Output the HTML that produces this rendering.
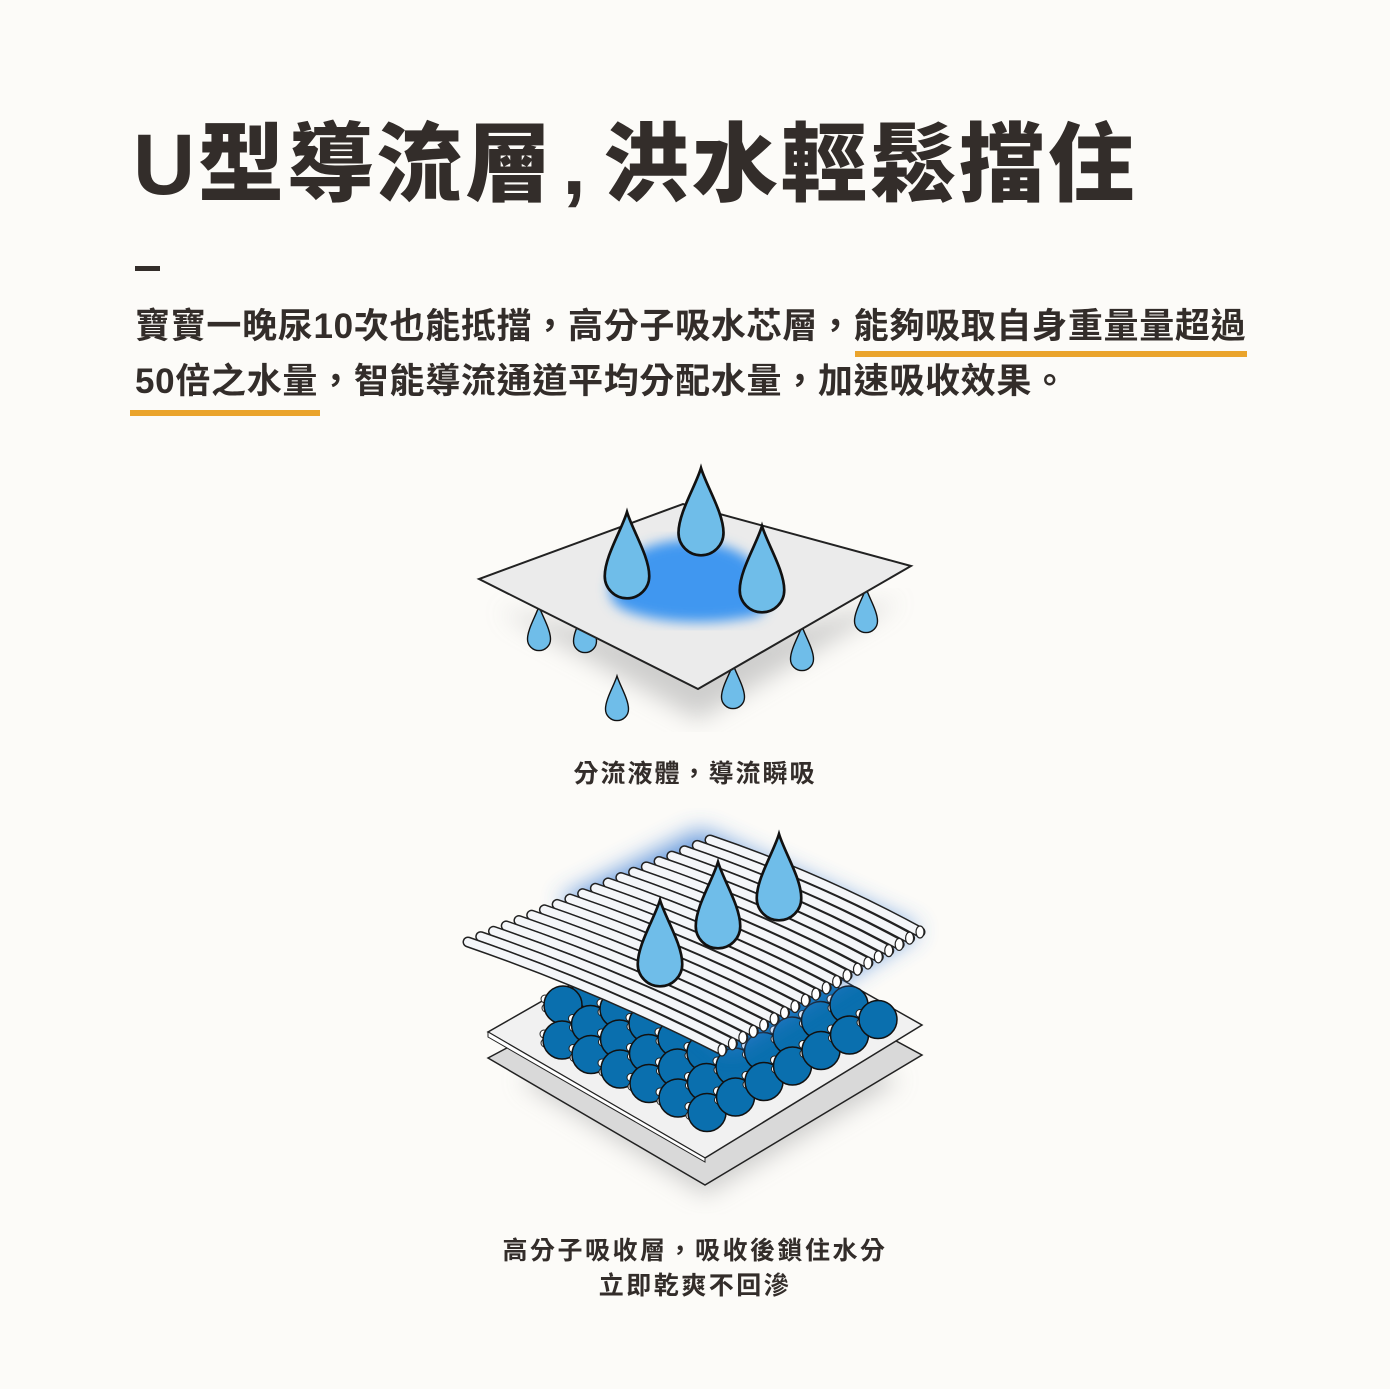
<!DOCTYPE html>
<html><head><meta charset="utf-8"><style>
html,body{margin:0;padding:0;background:#fcfbf8;}
body{width:1390px;height:1389px;position:relative;overflow:hidden;font-family:"Liberation Sans","Noto Sans CJK TC",sans-serif;color:#332d2a;}
.t{position:absolute;white-space:nowrap;font-weight:700;}
</style></head><body>
<div class="t" style="left:133px;top:110px;font-size:86px;font-weight:900;letter-spacing:3px;line-height:110px;">U型導流層<span style="font-family:'Liberation Sans',sans-serif;margin:0 14px 0 8px;">,</span>洪水輕鬆擋住</div>
<div style="position:absolute;left:135px;top:266px;width:25px;height:5px;background:#332d2a;"></div>
<div class="t" style="left:135px;top:300px;font-size:35px;line-height:54px;letter-spacing:0.7px;">寶寶一晚尿10次也能抵擋，高分子吸水芯層，能夠吸取自身重量量超過</div>
<div class="t" style="left:135px;top:355px;font-size:35px;line-height:54px;letter-spacing:0.7px;">50倍之水量，智能導流通道平均分配水量，加速吸收效果。</div>
<div style="position:absolute;left:855px;top:351px;width:392px;height:6px;background:#eaa42c;"></div>
<div style="position:absolute;left:130px;top:410px;width:190px;height:6px;background:#eaa42c;"></div>

<svg width="1390" height="1389" style="position:absolute;left:0;top:0" xmlns="http://www.w3.org/2000/svg">
<defs>
<path id="d" d="M0,0 C6,20 25,50 25,72 A25,25 0 0 1 -25,72 C-25,50 -6,20 0,0Z" fill="#6fbde9" stroke="#111" stroke-width="3"/>
<filter id="b1"><feGaussianBlur stdDeviation="6"/></filter>
<filter id="b2"><feGaussianBlur stdDeviation="12"/></filter>
</defs>
<polygon points="500,610 698,720 900,600 698,650" fill="#bbb" filter="url(#b2)" opacity="0.7"/>
<use href="#d" transform="translate(539,606) scale(0.46)"/>
<use href="#d" transform="translate(585,608) scale(0.46)"/>
<use href="#d" transform="translate(733,664) scale(0.46)"/>
<use href="#d" transform="translate(802,626) scale(0.46)"/>
<use href="#d" transform="translate(866,588) scale(0.46)"/>
<polygon points="479,579 698,689 911,566 683,504" fill="#ebebeb" stroke="#222" stroke-width="2"/>
<path d="M625,560 C650,540 690,535 720,545 C760,555 780,590 760,615 C720,625 660,625 625,610 C600,600 610,570 625,560Z" fill="#4197f0" filter="url(#b1)"/>
<use href="#d" transform="translate(617,676) scale(0.46)"/>
<use href="#d" transform="translate(701,468) scale(0.9)"/>
<use href="#d" transform="translate(627,512) scale(0.89)"/>
<use href="#d" transform="translate(762,526) scale(0.89)"/>

<polygon points="520,1080 705,1195 900,1080 710,1000" fill="#bbb" filter="url(#b2)" opacity="0.7"/>
<polygon points="488,1058 705,1185 922,1055 710,940" fill="#d9d9d9" stroke="#222" stroke-width="1.5"/>
<polygon points="488,1032 705,1158 922,1025 710,905" fill="#f1f1f1" stroke="#222" stroke-width="1.5"/>
<polygon points="488,1032 705,1158 705,1162 488,1037" fill="#fff" stroke="#222" stroke-width="1"/>
<g id="balls"></g>
<polygon points="560,900 700,830 920,930 730,1050" fill="#3d7fd6" filter="url(#b2)" opacity="0.8"/>
<g id="fib"></g>
<use href="#d" transform="translate(779,834) scale(0.89)"/>
<use href="#d" transform="translate(718,862) scale(0.89)"/>
<use href="#d" transform="translate(660,900) scale(0.89)"/>
</svg>
<script>
(function(){
var g=document.getElementById("balls"),s="";
function ball(x,y){
 s+='<circle cx="'+(x-18)+'" cy="'+(y-6)+'" r="4" fill="#fff" stroke="#222" stroke-width="1"/>';
 s+='<circle cx="'+(x-17)+'" cy="'+(y+3)+'" r="4" fill="#fff" stroke="#222" stroke-width="1"/>';
 s+='<circle cx="'+x+'" cy="'+y+'" r="19" fill="#0a6fae" stroke="#111" stroke-width="1.5"/>';
}
for(var j=6;j>=0;j--)ball(563+j*28.5,1005-j*15.5);
for(var i=0;i<6;i++)for(var j=0;j<7;j++){
 ball(562+i*29+j*28.5,1040+i*14.5-j*15.5);
}
g.innerHTML=s;
var f=document.getElementById("fib"),t="";
var n=20;
for(var k=n-1;k>=0;k--){
 var u=k/(n-1);
 var x1=468+242*u,y1=942-102*u,x2=722+198*u,y2=1050-118*u;
 var mx=(x1+x2)/2+6,my=(y1+y2)/2-8;
 var p="M"+x1+","+y1+" Q"+mx+","+my+" "+x2+","+y2;
 t+='<path d="'+p+'" fill="none" stroke="#222" stroke-width="11" stroke-linecap="round"/>';
 t+='<path d="'+p+'" fill="none" stroke="#f4f6f9" stroke-width="8" stroke-linecap="round"/>';
 t+='<ellipse cx="'+x2+'" cy="'+y2+'" rx="4" ry="6" fill="#fff" stroke="#222" stroke-width="1.2"/>';
}
f.innerHTML=t;
})();
</script>
<div class="t" style="left:0;width:1390px;text-align:center;top:757px;font-size:25px;line-height:34px;letter-spacing:2px;">分流液體，導流瞬吸</div>
<div class="t" style="left:0;width:1390px;text-align:center;top:1234px;font-size:25px;line-height:34px;letter-spacing:2.5px;">高分子吸收層，吸收後鎖住水分</div>
<div class="t" style="left:0;width:1390px;text-align:center;top:1269px;font-size:25px;line-height:34px;letter-spacing:2.5px;">立即乾爽不回滲</div>
</body></html>
